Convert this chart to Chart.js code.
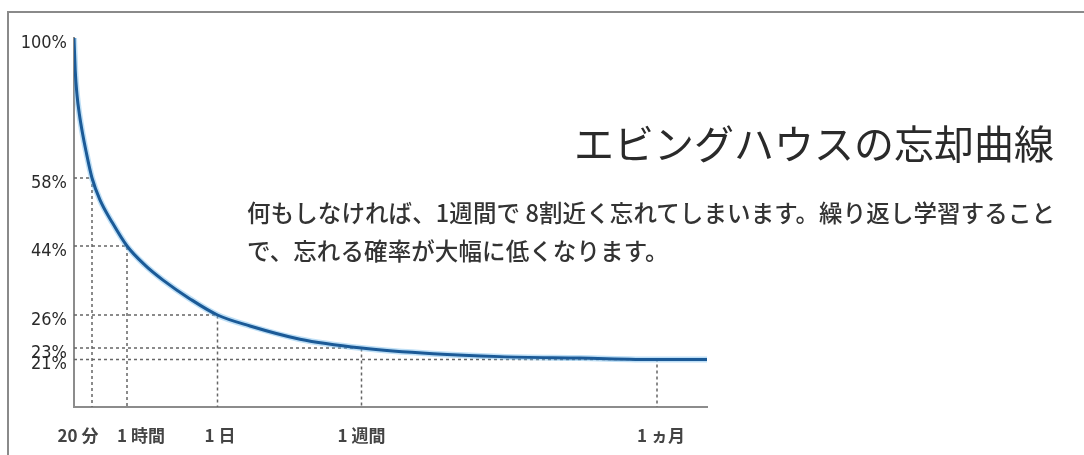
<!DOCTYPE html>
<html lang="ja">
<head>
<meta charset="utf-8">
<script src="https://cdn.jsdelivr.net/npm/chart.js@4/dist/chart.umd.min.js"></script>
<style>
  html, body { margin:0; padding:0; background:#fff; }
  #wrap { position:relative; width:1084px; height:455px; overflow:hidden; background:#fff; }
  #frame { position:absolute; left:7px; top:11px; right:-10px; bottom:-10px;
           border-top:2px solid #8a8a8a; border-left:2px solid #8a8a8a; }
  #c { position:absolute; left:0; top:0; }
  #title { position:absolute; left:574px; top:121px; font-family:"Noto Sans CJK JP", sans-serif;
           font-size:40px; line-height:42px; font-weight:400; color:#2a2a2a; white-space:nowrap; }
  #note { position:absolute; left:247px; top:193px; font-family:"Noto Sans CJK JP", sans-serif;
          font-size:23.5px; line-height:38px; font-weight:500; color:#333; white-space:nowrap;
          letter-spacing:0.1px; }
</style>
</head>
<body>
<div id="wrap">
  <div id="frame"></div>
  <canvas id="c" width="1084" height="455"></canvas>
  <div id="title">エビングハウスの忘却曲線</div>
  <div id="note">何もしなければ、1週間で 8割近く忘れてしまいます。繰り返し学習すること<br>で、忘れる確率が大幅に低くなります。</div>
</div>
<script>
// ---- data (time in minutes, retention in %) ----
const curveMinutes   = [0, 1.33, 3.33, 6.1, 9.4, 13.3, 20, 29.1, 42.9, 60, 334, 609, 1021, 1440,
                        3390, 6390, 10080, 18094, 25603, 34570, 43200, 48780];
const curveRetention = [100, 90.4, 82.9, 76.9, 71.5, 66.1, 58, 53.5, 48.9, 44, 39.0, 35.1, 30.2, 26,
                        25.0, 23.8, 23, 22.0, 21.5, 21.25, 21, 21];

const markMinutes   = [20, 60, 1440, 10080, 43200];
const markRetention = [58, 44, 26, 23, 21];
const xTickLabels   = ['20 分', '1 時間', '1 日', '1 週間', '1 ヵ月'];
const yTickValues   = [21, 23, 26, 44, 58, 100];

// ---- scale layout (value -> fraction of axis length) ----
const xKnots = [[0,0],[20,18/633],[60,53/633],[1440,143.5/633],[10080,287.5/633],[43200,583/633],[48780,1]];
const yKnots = [[0,0],[21,47.5/369],[23,59/369],[26,92/369],[44,161/369],[58,229/369],[100,1]];
const xLabelShift = [-14, 14, 2.5, 0, 4];

class PiecewiseScale extends Chart.LinearScale {
  static id = 'piecewise';
  static defaults = Chart.LinearScale.defaults;
  _interp(v, from, to) {
    const k = this.options.knots;
    if (v <= k[0][from]) return k[0][to];
    for (let i = 1; i < k.length; i++) {
      if (v <= k[i][from]) {
        const a = k[i-1], b = k[i];
        return a[to] + (v - a[from]) / (b[from] - a[from]) * (b[to] - a[to]);
      }
    }
    return k[k.length-1][to];
  }
  getPixelForValue(value) {
    if (value === null || value === undefined || isNaN(value)) return NaN;
    return this.getPixelForDecimal(this._interp(value, 0, 1));
  }
  getValueForPixel(pixel) {
    return this._interp(this.getDecimalForPixel(pixel), 1, 0);
  }
}
Chart.register(PiecewiseScale);

const curve = curveMinutes.map((t, i) => ({x: t, y: curveRetention[i]}));

const datasets = [
  { data: curve, borderColor: '#1b5a97', borderWidth: 3, pointRadius: 0,
    cubicInterpolationMode: 'monotone', order: 0 },
  { data: curve, borderColor: 'rgba(110,185,235,0.45)', borderWidth: 6, pointRadius: 0,
    cubicInterpolationMode: 'monotone', order: 1 }
];
markMinutes.forEach((t, i) => {
  const p = markRetention[i];
  datasets.push({
    data: [{x: 0, y: p}, {x: t, y: p}, {x: t, y: 0}],
    borderColor: '#666', borderWidth: 1.5, borderDash: [3, 3],
    pointRadius: 0, tension: 0, order: 2
  });
});

const xLabelsPlugin = {
  id: 'xLabels',
  afterDraw(chart) {
    const ctx = chart.ctx, xs = chart.scales.x;
    ctx.save();
    ctx.font = '700 17px "Noto Sans CJK JP", sans-serif';
    ctx.fillStyle = '#444';
    ctx.textAlign = 'center';
    ctx.textBaseline = 'middle';
    markMinutes.forEach((t, i) => {
      ctx.fillText(xTickLabels[i], xs.getPixelForValue(t) + xLabelShift[i], 436);
    });
    ctx.restore();
  }
};

new Chart(document.getElementById('c'), {
  type: 'line',
  data: { datasets },
  plugins: [xLabelsPlugin],
  options: {
    responsive: false,
    animation: false,
    layout: { padding: { left: 14, top: 38, right: 377, bottom: 0 } },
    plugins: { legend: { display: false }, tooltip: { enabled: false } },
    scales: {
      x: {
        type: 'piecewise', knots: xKnots, min: 0, max: 48780,
        grid: { display: false, drawTicks: false },
        border: { display: true, color: '#8c8c8c', width: 2 },
        ticks: { display: false },
        afterFit(s) { s.height = 48; }
      },
      y: {
        type: 'piecewise', knots: yKnots, min: 0, max: 100,
        grid: { display: false, drawTicks: false },
        border: { display: true, color: '#8c8c8c', width: 2 },
        afterBuildTicks(s) { s.ticks = yTickValues.map(v => ({value: v})); },
        afterFit(s) { s.width = 60; },
        ticks: {
          autoSkip: false, padding: 7, labelOffset: 5, color: '#2a2a2a',
          font: { family: '"Liberation Sans Narrow", "DejaVu Sans Condensed", sans-serif', size: 18 },
          callback: v => v + '%'
        }
      }
    }
  }
});
</script>
</body>
</html>
